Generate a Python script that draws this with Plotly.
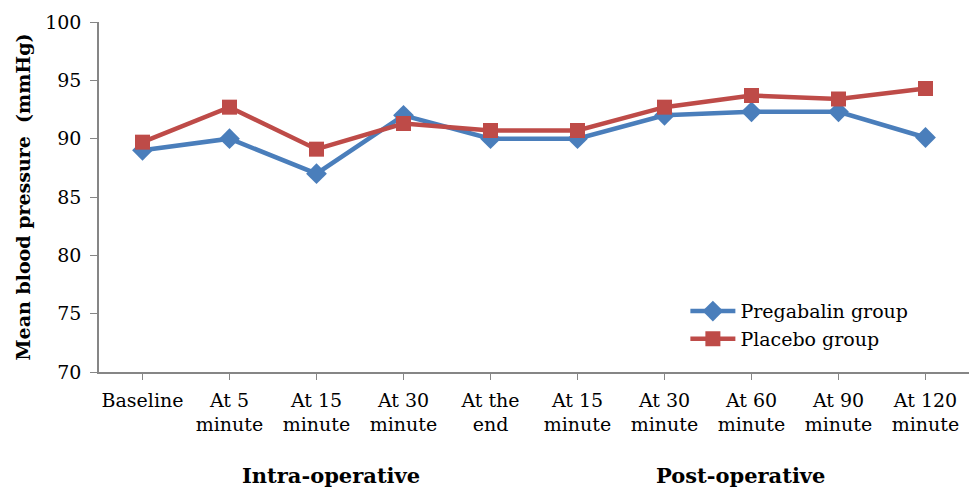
import plotly.graph_objects as go

categories = ["Baseline", "At 5<br>minute", "At 15<br>minute", "At 30<br>minute", "At the<br>end",
              "At 15<br>minute", "At 30<br>minute", "At 60<br>minute", "At 90<br>minute", "At 120<br>minute"]
pregabalin = [89.0, 90.0, 87.0, 92.0, 90.0, 90.0, 92.0, 92.3, 92.3, 90.1]
placebo = [89.7, 92.7, 89.1, 91.3, 90.7, 90.7, 92.7, 93.7, 93.4, 94.3]
x_idx = list(range(len(categories)))

FONT = "DejaVu Serif"
fig = go.Figure()
fig.add_trace(go.Scatter(x=x_idx, y=pregabalin, mode="lines+markers", name="Pregabalin group",
                         line=dict(color="#4a7ebb", width=4.5),
                         marker=dict(symbol="diamond", size=16, color="#4a7ebb")))
fig.add_trace(go.Scatter(x=x_idx, y=placebo, mode="lines+markers", name="Placebo group",
                         line=dict(color="#be4b48", width=4.5),
                         marker=dict(symbol="square", size=15, color="#be4b48")))

fig.update_layout(
    width=969, height=488,
    margin=dict(l=99, r=0, t=22, b=116),
    paper_bgcolor="white", plot_bgcolor="white",
    font=dict(family=FONT, size=19, color="black"),
    showlegend=True,
    legend=dict(x=0.674, y=0.228, xanchor="left", yanchor="top", bgcolor="rgba(0,0,0,0)",
                font=dict(family=FONT, size=19), itemwidth=45, tracegroupgap=0),
    xaxis=dict(range=[-0.5, 9.5], tickmode="array", tickvals=x_idx, ticktext=categories,
               showline=True, linecolor="#868686", linewidth=1.5, showgrid=False, zeroline=False,
               ticks="outside", ticklen=6, tickcolor="#868686", tickson="boundaries",
               ticklabelstandoff=4,
               tickfont=dict(family=FONT, size=19)),
    yaxis=dict(range=[70, 100], dtick=5, showline=True, linecolor="#868686", linewidth=1.5,
               showgrid=False, zeroline=False, ticks="outside", ticklen=7, tickcolor="#868686",
               ticklabelstandoff=5,
               tickfont=dict(family=FONT, size=19),
               title=dict(text="<b>Mean blood pressure  (mmHg)</b>", font=dict(family=FONT, size=19), standoff=10)),
    annotations=[
        dict(text="<b>Intra-operative</b>", x=0.267, y=-0.297, xref="paper", yref="paper",
             xanchor="center", yanchor="middle", showarrow=False, font=dict(family=FONT, size=21)),
        dict(text="<b>Post-operative</b>", x=0.737, y=-0.297, xref="paper", yref="paper",
             xanchor="center", yanchor="middle", showarrow=False, font=dict(family=FONT, size=21)),
    ],
)
fig.write_html("out.html")
